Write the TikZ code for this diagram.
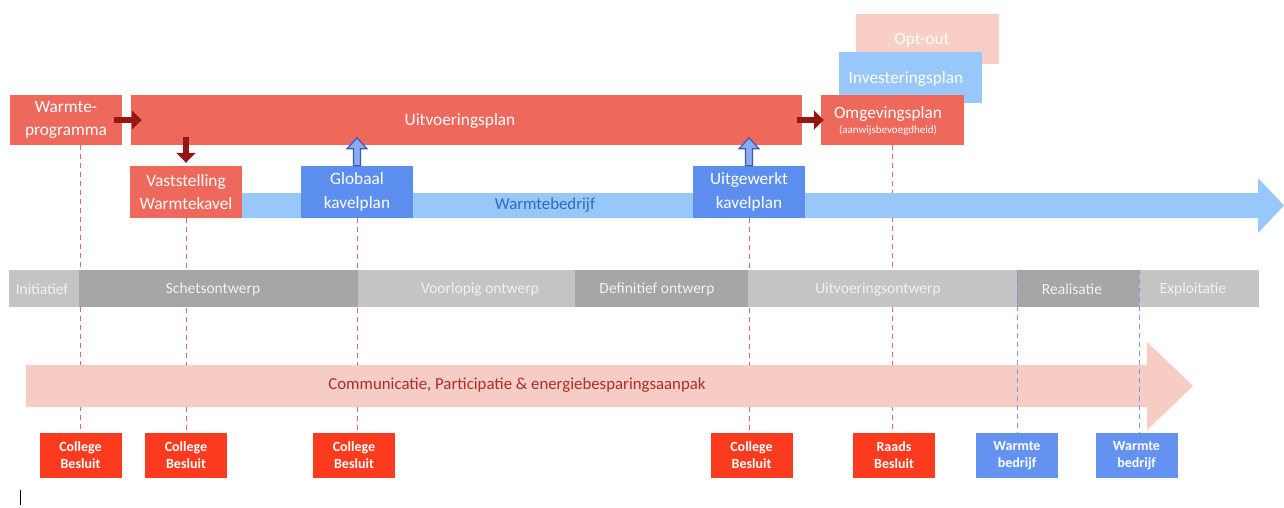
\documentclass[tikz,border=0pt]{standalone}
\usepackage{fontspec}
\setmainfont{Carlito}
\usetikzlibrary{arrows.meta,calc}
\pgfdeclarelayer{back}
\pgfdeclarelayer{bg}
\pgfsetlayers{back,bg,main}
\definecolor{salmonc}{RGB}{238,104,92}
\definecolor{darkredc}{RGB}{150,22,20}
\definecolor{bluec}{RGB}{92,142,240}
\definecolor{lightbluec}{RGB}{152,199,250}
\definecolor{upfillc}{RGB}{135,172,242}
\definecolor{updrawc}{RGB}{60,88,178}
\definecolor{optoutc}{RGB}{248,206,197}
\definecolor{pinkc}{RGB}{247,204,196}
\definecolor{lightgrayc}{RGB}{196,196,196}
\definecolor{darkgrayc}{RGB}{166,166,166}
\definecolor{phasetextc}{RGB}{242,242,242}
\definecolor{brightredc}{RGB}{252,58,30}
\definecolor{bottombluec}{RGB}{100,146,240}
\definecolor{reddashc}{RGB}{228,100,110}
\definecolor{bluedashc}{RGB}{120,155,232}
\definecolor{wbtextc}{RGB}{42,110,190}
\definecolor{commtextc}{RGB}{168,48,42}
\begin{document}
\begin{tikzpicture}[x=1pt,y=-1pt,
  box/.style={rectangle, inner sep=0pt, align=center, text=white,
    font=\fontsize{17.3}{23.5}\selectfont},
  salmonbox/.style={box, fill=salmonc},
  bluebox/.style={box, fill=bluec},
  lbluebox/.style={box, fill=lightbluec},
  optbox/.style={box, fill=optoutc},
  phaselight/.style={rectangle, inner sep=0pt, fill=lightgrayc, minimum height=37pt},
  phasedark/.style={rectangle, inner sep=0pt, fill=darkgrayc, minimum height=37pt},
  phaselabel/.style={inner sep=0pt, text=phasetextc, font=\fontsize{15.5}{18}\selectfont},
  decbox/.style={rectangle, inner sep=0pt, align=center, text=white,
    minimum width=82pt, minimum height=45pt,
    font=\bfseries\fontsize{14}{17}\selectfont},
  redbottom/.style={decbox, fill=brightredc},
  bluebottom/.style={decbox, fill=bottombluec},
  darkarr/.style={draw=darkredc, line width=5.5pt, -{Triangle[length=10pt,width=19pt]}},
  uparr/.style={draw=updrawc, fill=upfillc, line width=1.2pt, line join=miter},
  reddash/.style={draw=reddashc, line width=1pt, dash pattern=on 5pt off 4pt},
  bluedash/.style={draw=bluedashc, line width=1pt, dash pattern=on 5pt off 4pt},
]
\begin{pgfonlayer}{back}
\useasboundingbox[fill=white] (0,0) rectangle (1284,507);
\end{pgfonlayer}

% Warmtebedrijf arrow (shape)
\fill[lightbluec] (235,193) -- (1258,193) -- (1258,178) -- (1284,205.5)
  -- (1258,233) -- (1258,218) -- (235,218) -- cycle;
\node[inner sep=0pt, text=wbtextc, font=\fontsize{16.8}{20}\selectfont] (wbt) at (545,205) {Warmtebedrijf};

% top boxes
\node[optbox, minimum width=143pt, minimum height=50pt] (oo) at (927.5,39) {};
\node[box] (oot) at (922,40) {Opt-out};
\node[lbluebox, minimum width=143pt, minimum height=51pt] (ip) at (910.5,77.5) {};
\node[box] (ipt) at (906,79) {Investeringsplan};
\node[salmonbox, minimum width=112pt, minimum height=50pt] (wp) at (66,120) {Warmte-\\programma};
\node[salmonbox, minimum width=671pt, minimum height=50pt] (uvp) at (466.5,120) {};
\node[box] (uvpt) at (460,121) {Uitvoeringsplan};
\node[salmonbox, minimum width=143pt, minimum height=50pt] (om) at (892.5,120) {};
\node[box] (omt) at (888,114) {Omgevingsplan};
\node[box, font=\fontsize{11}{12}\selectfont] (oms) at (888,130) {(aanwijsbevoegdheid)};

\node[salmonbox, minimum width=112pt, minimum height=52pt] (vs) at (186,192) {Vaststelling\\Warmtekavel};
\node[bluebox, minimum width=112pt, minimum height=52pt] (gk) at (357,192) {Globaal\\kavelplan};
\node[bluebox, minimum width=112pt, minimum height=52pt] (uk) at (749,192) {Uitgewerkt\\kavelplan};

% connectors
\draw[darkarr] ([xshift=-8pt]wp.east) -- ([xshift=11pt]uvp.west);
\draw[darkarr] ([xshift=-5pt]uvp.east) -- ([xshift=3pt]om.west);
\draw[darkarr] ([yshift=8pt]vs.north |- uvp.south) -- ([yshift=3pt]vs.north);
\foreach \n in {gk,uk} {
  \draw[uparr] ($(\n.north)+(-3.5,0)$) -- ($(\n.north)+(-3.5,-17)$) -- ($(\n.north)+(-10,-17)$)
    -- ($(\n.north)+(0,-28)$) -- ($(\n.north)+(10,-17)$) -- ($(\n.north)+(3.5,-17)$)
    -- ($(\n.north)+(3.5,0)$) -- cycle;
}

% phase bar
\node[phaselight, minimum width=70pt] (init) at (44,288.5) {};
\node[phasedark, minimum width=279pt] (schets) at (218.5,288.5) {};
\node[phaselight, minimum width=217pt] (voorl) at (466.5,288.5) {};
\node[phasedark, minimum width=173pt] (defin) at (661.5,288.5) {};
\node[phaselight, minimum width=269pt] (uitvo) at (882.5,288.5) {};
\node[phasedark, minimum width=122pt] (real) at (1078,288.5) {};
\node[phaselight, minimum width=120pt] (expl) at (1199,288.5) {};
\node[phaselabel] (initt) at (42,289) {Initiatief};
\node[phaselabel] (schetst) at (213,289) {Schetsontwerp};
\node[phaselabel] (voorlt) at (480,289) {Voorlopig ontwerp};
\node[phaselabel] (defint) at (657,289) {Definitief ontwerp};
\node[phaselabel] (uitvot) at (878,289) {Uitvoeringsontwerp};
\node[phaselabel] (realt) at (1072,289) {Realisatie};
\node[phaselabel] (explt) at (1193,289) {Exploitatie};

% communication arrow (shape)
\fill[pinkc] (26,365) -- (1147,365) -- (1147,342) -- (1193,386) -- (1147,430)
  -- (1147,407) -- (26,407) -- cycle;
\node[inner sep=0pt, text=commtextc, font=\fontsize{16.8}{20}\selectfont] (comm) at (517,385)
  {Communicatie, Participatie \& energiebesparingsaanpak};

% decision boxes
\node[redbottom] (cb1) at (80.5,455.5) {College\\Besluit};
\node[redbottom] (cb2) at (186,455.5) {College\\Besluit};
\node[redbottom] (cb3) at (354,455.5) {College\\Besluit};
\node[redbottom] (cb4) at (751.5,455.5) {College\\Besluit};
\node[redbottom] (rb) at (894,455.5) {Raads\\Besluit};
\node[bluebottom] (wb1) at (1017,455.5) {Warmte\\bedrijf};
\node[bluebottom] (wb2) at (1136.5,455.5) {Warmte\\bedrijf};

% dashed guide lines
\begin{pgfonlayer}{bg}
\draw[reddash] (cb1.north |- wp.south) -- (cb1.north);
\draw[reddash] (vs.south) -- (vs.south |- cb2.north);
\draw[reddash] (gk.south) -- (gk.south |- cb3.north);
\draw[reddash] (uk.south) -- (uk.south |- cb4.north);
\draw[reddash] (om.south) -- (om.south |- rb.north);
\end{pgfonlayer}
\draw[bluedash] (wb1.north |- real.north) -- (wb1.north);
\draw[bluedash] (real.north east) -- (real.north east |- wb2.north);

% cursor mark
\draw[line width=1pt] (20,490) -- (20,505);
\end{tikzpicture}
\end{document}
